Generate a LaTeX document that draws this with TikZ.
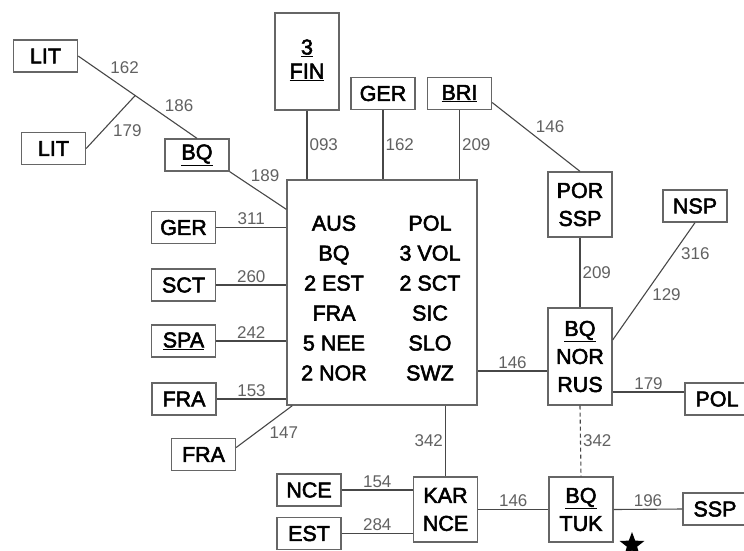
\documentclass[tikz,border=0pt]{standalone}
\usepackage{fontspec}
\setmainfont{Liberation Sans}
\newfontfamily\boxfam{Liberation Sans}[FakeBold=2.5]
\usepackage{array}
\usetikzlibrary{shapes.geometric}
\newcommand{\boxfont}{\boxfam\fontsize{21.5}{28}\selectfont}
\newcommand{\wfont}{\fontsize{17}{20}\selectfont}
\newcolumntype{C}{>{\centering\arraybackslash}p{84pt}}
\renewcommand{\arraystretch}{1.07}
\tikzset{
  box/.style={draw=black!60, line width=1.3pt, minimum width=64pt, minimum height=32pt,
    inner sep=0pt, align=center, font=\boxfont},
  tallbox/.style={box, minimum height=65pt},
  link/.style={draw=black!72, line width=1.1pt},
  wlabel/.style={font=\wfont, text=black!62, inner sep=2pt},
}
\begin{document}
\begin{tikzpicture}[x=1pt, y=-1pt]
\useasboundingbox (0,0) rectangle (744,550);
% centre group
\node[box, minimum width=190pt, minimum height=225pt] (main) at (382,292.5) {%
  \begin{tabular}{@{}CC@{}}\noalign{\vskip 14pt}
  AUS & POL\\ BQ & 3 VOL\\ 2 EST & 2 SCT\\ FRA & SIC\\ 5 NEE & SLO\\ 2 NOR & SWZ
  \end{tabular}};
% top row
\node[box, minimum height=97pt] (fin) at (307,61.5) {\\[-16pt]\underline{3}\\[-4pt]\underline{FIN}};
\node[box] (gertop) at (383,93.5) {GER};
\node[box] (bri) at (459.5,93.5) {\underline{BRI}};
% far left
\node[box] (lit1) at (45.5,56) {LIT};
\node[box] (lit2) at (53.5,148.5) {LIT};
\node[box] (bq1) at (197,155) {\underline{BQ}};
% left column
\node[box] (gerl) at (183.5,227.5) {GER};
\node[box] (sct) at (183.5,285) {SCT};
\node[box] (spa) at (183.5,341) {\underline{SPA}};
\node[box] (fra1) at (184,399) {FRA};
\node[box] (fra2) at (203.5,454.5) {FRA};
% right side
\node[tallbox] (por) at (580,204.5) {POR\\SSP};
\node[box] (nsp) at (695,206) {NSP};
\node[box, minimum height=97pt] (bnr) at (580,356.5) {\underline{BQ}\\NOR\\RUS};
\node[box] (pol) at (717,399) {POL};
% bottom row
\node[box] (nce) at (309,490) {NCE};
\node[box] (est) at (309,533.5) {EST};
\node[tallbox] (kar) at (445.5,509.5) {KAR\\NCE};
\node[tallbox] (tuk) at (581,509.5) {\underline{BQ}\\TUK};
\node[box] (ssp) at (715,509) {SSP};
\node[star, star points=5, star point ratio=2.4, fill=black, inner sep=0pt,
  minimum size=26pt] (tukstar) at (632,545) {};

% links into the centre box
\foreach \b/\w in {fin/093, gertop/162, bri/209}
  \draw[link] (\b.south) -- node[wlabel, right] {\w} (\b.south |- main.north);
\foreach \b/\w in {gerl/311, sct/260, spa/242, fra1/153}
  \draw[link] (\b.east) -- node[wlabel, above] {\w} (\b.east -| main.west);
\draw[link] (bq1.south east) -- node[wlabel, pos=0.33, above right] {189} ([yshift=-30pt]main.north west);
\draw[link] ([yshift=7pt]fra2.east) -- node[wlabel, pos=0.55, below right] {147} ([xshift=6pt]main.south west);

% LIT branch
\path (lit1.east) -- (bq1.north) coordinate[pos=0.48] (jn);
\draw[link] (lit1.east) -- node[wlabel, pos=0.52, above right] {162} (jn)
  -- node[wlabel, pos=0.44, above right] {186} (bq1.north);
\draw[link] (lit2.east) -- node[wlabel, pos=0.5, below right] {179} (jn);

% right branch
\draw[link] ([yshift=-9pt]bri.east) -- node[wlabel, pos=0.47, above right] {146} (por.north);
\draw[link] (por.south) -- node[wlabel, right] {209} (bnr.north);
\draw[link] (nsp.south) -- node[wlabel, pos=0.26, right=5pt] {316}
  node[wlabel, pos=0.61, right=5pt] {129} ([yshift=16.5pt]bnr.east);
\coordinate (m146) at ([yshift=-14.5pt]bnr.west);
\draw[link] (m146) -- node[wlabel, above] {146} (m146 -| main.east);
\draw[link] ([yshift=-35.5pt]bnr.east) -- node[wlabel, above] {179} ([yshift=7pt]pol.west);
\draw[link, dash pattern=on 4pt off 3pt] (bnr.south) -- node[wlabel, right] {342} (tuk.north);

% bottom branch
\draw[link] (kar.north |- main.south) -- node[wlabel, left] {342} (kar.north);
\draw[link] (nce.east) -- node[wlabel, above] {154} (nce.east -| kar.west);
\draw[link] (est.east) -- node[wlabel, above] {284} (est.east -| kar.west);
\draw[link] (kar.east) -- node[wlabel, above] {146} (tuk.west);
\draw[link] (tuk.east) -- node[wlabel, above] {196} (ssp.west);
\end{tikzpicture}
\end{document}
